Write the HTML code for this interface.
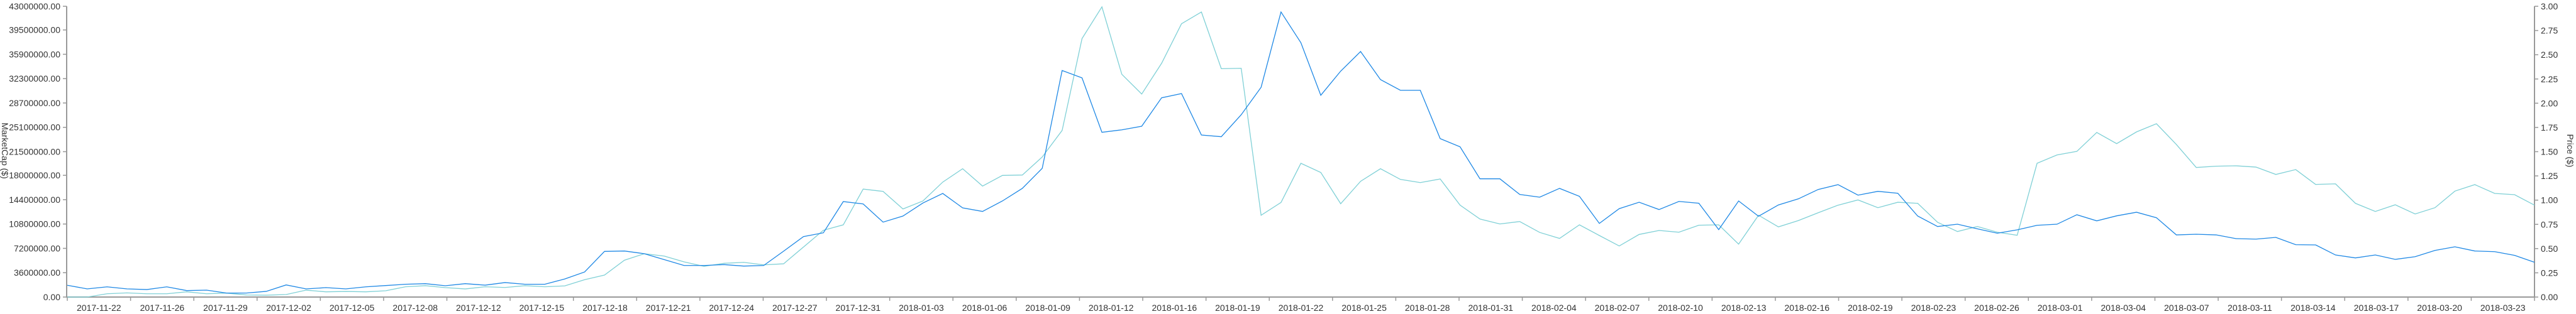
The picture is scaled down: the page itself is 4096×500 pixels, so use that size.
<!DOCTYPE html>
<html><head><meta charset="utf-8"><style>
html,body{margin:0;padding:0;background:#fff;}
svg{display:block;font-family:"Liberation Sans",sans-serif;}
</style></head><body>
<svg id="chart" width="4096" height="500" viewBox="0 0 4096 500" xmlns="http://www.w3.org/2000/svg">
<g id="axes"></g>
<g id="series"></g>
<text transform="translate(3,240) rotate(90)" text-anchor="middle" font-size="14" fill="#333">MarketCap ($)</text>
<text transform="translate(4082,240) rotate(90)" text-anchor="middle" font-size="14" fill="#333">Price ($)</text>
</svg>
<script>
const xLabels = ["2017-11-22","2017-11-26","2017-11-29","2017-12-02","2017-12-05","2017-12-08","2017-12-12","2017-12-15","2017-12-18","2017-12-21","2017-12-24","2017-12-27","2017-12-31","2018-01-03","2018-01-06","2018-01-09","2018-01-12","2018-01-16","2018-01-19","2018-01-22","2018-01-25","2018-01-28","2018-01-31","2018-02-04","2018-02-07","2018-02-10","2018-02-13","2018-02-16","2018-02-19","2018-02-23","2018-02-26","2018-03-01","2018-03-04","2018-03-07","2018-03-11","2018-03-14","2018-03-17","2018-03-20","2018-03-23"];
const leftTicks = [0,3600000,7200000,10800000,14400000,18000000,21500000,25100000,28700000,32300000,35900000,39500000,43000000];
const rightTicks = [0,0.25,0.5,0.75,1,1.25,1.5,1.75,2,2.25,2.5,2.75,3];
// market cap in millions of $
const marketCapM = [1.74,1.21,1.51,1.21,1.11,1.51,0.96,1.02,0.59,0.59,0.84,1.79,1.21,1.39,1.21,1.51,1.70,1.89,1.98,1.67,1.98,1.76,2.14,1.89,1.89,2.67,3.71,6.75,6.81,6.41,5.54,4.67,4.67,4.80,4.58,4.67,6.78,8.94,9.50,14.12,13.77,11.08,11.98,13.90,15.32,13.19,12.66,14.21,16.07,19.04,33.50,32.41,24.36,24.73,25.26,29.47,30.09,23.96,23.71,26.96,31.02,42.16,37.61,29.84,33.41,36.31,32.16,30.58,30.58,23.43,22.22,17.49,17.49,15.17,14.77,16.07,14.89,10.89,13.07,14.02,12.94,14.14,13.87,9.97,14.21,11.95,13.62,14.52,15.91,16.62,15.07,15.63,15.35,11.98,10.43,10.77,10.09,9.44,9.94,10.61,10.77,12.17,11.27,12.01,12.54,11.73,9.19,9.29,9.19,8.64,8.57,8.82,7.74,7.71,6.22,5.79,6.22,5.57,5.97,6.90,7.43,6.81,6.71,6.16,5.14];
const price = [0,0,0.034,0.043,0.034,0.034,0.054,0.034,0.041,0.021,0.019,0.026,0.071,0.054,0.058,0.054,0.065,0.106,0.117,0.097,0.084,0.106,0.099,0.117,0.106,0.115,0.179,0.227,0.380,0.447,0.423,0.363,0.317,0.348,0.358,0.332,0.343,0.516,0.689,0.745,1.114,1.090,0.909,0.991,1.186,1.324,1.145,1.255,1.259,1.445,1.719,2.667,2.994,2.298,2.095,2.412,2.820,2.941,2.356,2.360,0.844,0.976,1.380,1.285,0.963,1.194,1.324,1.214,1.181,1.218,0.948,0.805,0.754,0.779,0.667,0.605,0.745,0.635,0.527,0.646,0.687,0.669,0.741,0.745,0.546,0.844,0.724,0.789,0.870,0.948,1.002,0.922,0.978,0.967,0.771,0.676,0.728,0.669,0.637,1.380,1.466,1.503,1.698,1.583,1.704,1.788,1.574,1.337,1.350,1.354,1.341,1.265,1.315,1.162,1.168,0.967,0.883,0.952,0.857,0.922,1.093,1.160,1.069,1.056,0.948];

const NS="http://www.w3.org/2000/svg";
const X0=107, X1=4030, Y0=473, Y1=10;
const N = marketCapM.length;
const xPt = i => X0 + (X1-X0)*i/(N-1);
const yL = v => Y0 - (Y0-Y1)*v/43000000;
const yR = v => Y0 - (Y0-Y1)*v/3;
function mk(tag, attrs, parent){const e=document.createElementNS(NS,tag);for(const k in attrs)e.setAttribute(k,attrs[k]);parent.appendChild(e);return e;}
const axes=document.getElementById('axes'), series=document.getElementById('series');
const AX="#999";
// left axis
const la=mk('g',{},axes);


mk('line',{x1:106,y1:Y1,x2:106,y2:Y0,stroke:AX,'stroke-width':2},la);
leftTicks.forEach(v=>{const y=yL(v);
 mk('line',{x1:100,y1:y,x2:106,y2:y,stroke:AX,'stroke-width':1.5},la);
 const t=mk('text',{x:96,y:y+5,'text-anchor':'end','font-size':14,fill:'#333'},la);
 
 
 t.textContent=v.toFixed(2);});
// right axis
const ra=mk('g',{},axes);


mk('line',{x1:4030,y1:Y1,x2:4030,y2:Y0,stroke:AX,'stroke-width':2},ra);
rightTicks.forEach(v=>{const y=yR(v);
 mk('line',{x1:4030,y1:y,x2:4036,y2:y,stroke:AX,'stroke-width':1.5},ra);
 const t=mk('text',{x:4040,y:y+5,'text-anchor':'start','font-size':14,fill:'#333'},ra);
 
 
 t.textContent=v.toFixed(2);});
// x axis
const xa=mk('g',{},axes);


mk('line',{x1:105,y1:Y0,x2:4031,y2:Y0,stroke:AX,'stroke-width':2},xa);
const step=(X1-X0)/xLabels.length;
for(let i=0;i<=xLabels.length;i++){const x=X0+step*i;
 mk('line',{x1:x,y1:Y0,x2:x,y2:Y0+6,stroke:AX,'stroke-width':1.5},xa);}
xLabels.forEach((l,i)=>{const t=mk('text',{x:X0+step*(i+0.5),y:495,'text-anchor':'middle','font-size':14,fill:'#333'},xa);
 
 
 t.textContent=l;});
// lines
const pPrice=mk('polyline',{points:price.map((v,i)=>xPt(i)+','+yR(v)).join(' '),fill:'none',stroke:'#7fd0d6','stroke-width':1.3},series);


const pCap=mk('polyline',{points:marketCapM.map((v,i)=>xPt(i)+','+yL(v*1e6)).join(' '),fill:'none',stroke:'#1e88e5','stroke-width':1.3},series);


</script>
</body></html>
